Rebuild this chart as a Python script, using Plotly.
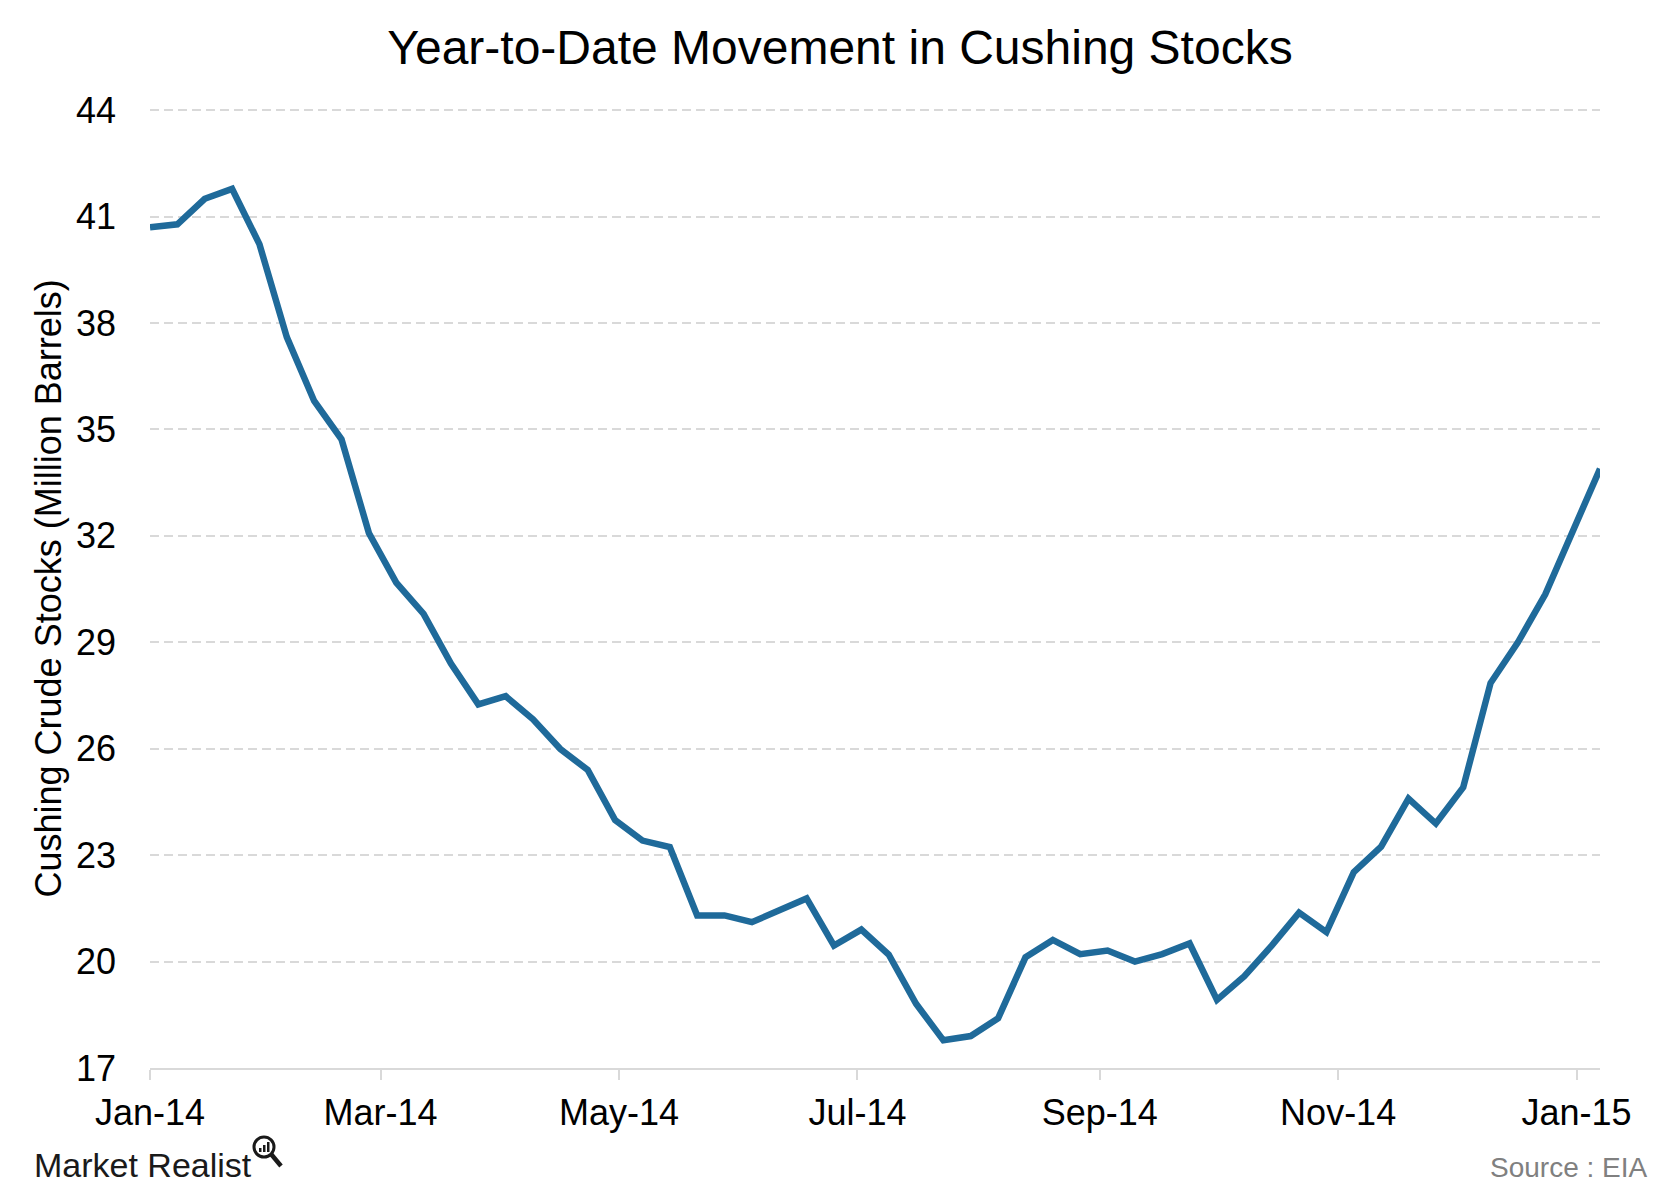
import datetime as dt
import plotly.graph_objects as go

# ---- data ----
start_date = dt.date(2014, 1, 1)
stocks = [40.70, 40.78, 41.50, 41.78, 40.22, 37.60, 35.80, 34.72, 32.08, 30.68,
          29.80, 28.40, 27.25, 27.48, 26.83, 25.99, 25.40, 23.99, 23.41, 23.23,
          21.30, 21.30, 21.11, 21.44, 21.78, 20.45, 20.90, 20.20, 18.81, 17.78,
          17.90, 18.40, 20.12, 20.61, 20.21, 20.31, 20.00, 20.21, 20.51, 18.92,
          19.59, 20.45, 21.38, 20.83, 22.52, 23.24, 24.59, 23.89, 24.91, 27.85,
          29.00, 30.35, 32.10, 33.89]
weeks = [start_date + dt.timedelta(days=7 * i) for i in range(len(stocks))]

tick_dates = ["2014-01-01", "2014-03-01", "2014-05-01", "2014-07-01",
              "2014-09-01", "2014-11-01", "2015-01-01"]
tick_labels = ["Jan-14", "Mar-14", "May-14", "Jul-14", "Sep-14", "Nov-14", "Jan-15"]
y_ticks = [17, 20, 23, 26, 29, 32, 35, 38, 41, 44]

title_text = "Year-to-Date Movement in Cushing Stocks"
y_title = "Cushing Crude Stocks (Million Barrels)"
source_text = "Source : EIA"
brand_text = "Market Realist"

FONT = "Liberation Sans, Arial, Helvetica, sans-serif"
GRID = "#d9d9d9"

fig = go.Figure()
fig.add_trace(go.Scatter(
    x=weeks, y=stocks, mode="lines",
    line=dict(color="#1F6A9A", width=6.5),
    hoverinfo="x+y", showlegend=False,
))

# page has an 8px body margin; figure sized to fit the 1680x1200 window
OFF = 8
W, H = 1664, 1184
L, R, T, B = 142, 72, 101, 124
pw = W - L - R
ph = H - T - B

def px_x(px):
    return (px - OFF - L) / pw

def px_y(py):
    return (H - B - (py - OFF)) / ph

fig.update_layout(
    width=W, height=H,
    margin=dict(l=L, r=R, t=T, b=B, pad=0),
    paper_bgcolor="white", plot_bgcolor="white",
    font=dict(family=FONT, color="black", size=36),
    title=dict(text=title_text, x=(840 - OFF) / W, xref="container", xanchor="center",
               y=1 - (47 - OFF) / H, yref="container", yanchor="middle",
               font=dict(family=FONT, size=48, color="black")),
    xaxis=dict(
        type="date",
        range=["2014-01-01", "2015-01-07"],
        tickvals=tick_dates, ticktext=tick_labels,
        showgrid=False, zeroline=False,
        showline=True, linecolor=GRID, linewidth=2,
        ticks="outside", ticklen=10, tickwidth=2, tickcolor=GRID,
        ticklabelstandoff=2,
        tickfont=dict(family=FONT, size=36, color="black"),
    ),
    yaxis=dict(
        range=[17, 44.03], tickvals=y_ticks,
        showgrid=True, gridcolor=GRID, gridwidth=2, griddash="9px,5px",
        zeroline=False, showline=False, ticks="",
        ticklabelstandoff=33,
        tickfont=dict(family=FONT, size=36, color="black"),
    ),
)

# y-axis title
fig.add_annotation(
    text=y_title, textangle=-90, xref="paper", yref="paper",
    x=px_x(48), y=0.5, xanchor="center", yanchor="middle", showarrow=False,
    font=dict(family=FONT, size=36, color="black"),
)
# source
fig.add_annotation(
    text=source_text, xref="paper", yref="paper",
    x=px_x(1650), y=px_y(1167), xanchor="right", yanchor="middle", showarrow=False,
    font=dict(family=FONT, size=28, color="#808080"),
)
# brand
fig.add_annotation(
    text=brand_text, xref="paper", yref="paper",
    x=px_x(32), y=px_y(1165), xanchor="left", yanchor="middle", showarrow=False,
    font=dict(family=FONT, size=34, color="#1a1a1a", weight=500),
)
# magnifier icon
cx, cy, r = 264, 1147, 10
fig.add_shape(type="circle", xref="paper", yref="paper",
              x0=px_x(cx - r), x1=px_x(cx + r), y0=px_y(cy + r), y1=px_y(cy - r),
              line=dict(color="#1a1a1a", width=3))
fig.add_shape(type="line", xref="paper", yref="paper",
              x0=px_x(cx + 7), y0=px_y(cy + 7), x1=px_x(cx + 17), y1=px_y(cy + 19),
              line=dict(color="#1a1a1a", width=4.5))
for i, hgt in enumerate([4, 7, 10]):
    bx = cx - 5 + i * 4
    fig.add_shape(type="rect", xref="paper", yref="paper",
                  x0=px_x(bx), x1=px_x(bx + 2.5), y0=px_y(cy + 5), y1=px_y(cy + 5 - hgt),
                  line=dict(width=0), fillcolor="#1a1a1a")

fig.write_html("out.html")
